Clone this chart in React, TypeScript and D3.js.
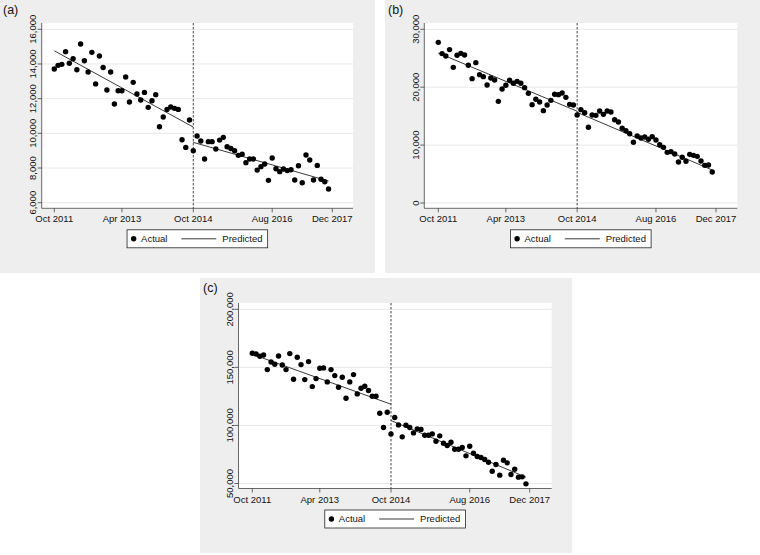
import * as d3 from "d3";

// month index 0 = Oct 2011
const tickIndex = [0, 18, 37, 58, 74];
const tickLabels = ["Oct 2011", "Apr 2013", "Oct 2014", "Aug 2016", "Dec 2017"];
const interventionIndex = 37;

const actualA = [
  13710, 13920, 13980, 14710, 14040, 14300, 13670, 15150, 14190, 13540,
  14670, 12850, 14460, 13800, 12500, 13540, 11690, 12460, 12460, 13250,
  11810, 12940, 12270, 11920, 12360, 11500, 11880, 12230, 10380, 10940,
  11380, 11520, 11440, 11380, 9630, 9190, 10770, 9000, 9850, 9560,
  8520, 9520, 9520, 9100, 9610, 9770, 9230, 9130, 9000, 8730,
  8790, 8310, 8520, 8520, 7880, 8080, 8230, 7290, 8580, 7960,
  7790, 7940, 7850, 7900, 7310, 8130, 7150, 8750, 8460, 7310,
  8150, 7350, 7210, 6790,
];
const fitA = [
  { from: 0, to: 37, start: 14760, end: 10360 },
  { from: 37, to: 73, start: 9480, end: 7250 },
];
const yTicksA = [6000, 8000, 10000, 12000, 14000, 16000];

const actualB = [
  27750, 25800, 25390, 26490, 23430, 25510, 25850, 25560, 23780, 21480,
  24240, 22170, 21820, 20380, 21590, 21250, 17560, 19690, 20330, 21190,
  20670, 21010, 20670, 19920, 18940, 16990, 17910, 17450, 15950, 16930,
  17730, 18770, 18710, 19000, 18250, 17040, 16930, 15200, 16120, 15600,
  13070, 15200, 15140, 15890, 15310, 15890, 15720, 14390, 13990, 12900,
  12490, 11970, 10480, 11570, 11230, 11400, 11000, 11460, 10880, 10070,
  9610, 8750, 8870, 8460, 7080, 7890, 7200, 8400, 8230, 8060,
  7250, 6500, 6560, 5350,
];
const fitB = [
  { from: 0, to: 37, start: 25900, end: 15850 },
  { from: 37, to: 73, start: 15650, end: 5700 },
];
const yTicksB = [0, 10000, 20000, 30000];

const actualC = [
  162140, 161570, 159560, 160700, 148090, 154680, 152670, 159840, 152100, 148090,
  161850, 139770, 158700, 152390, 139480, 154970, 133460, 140340, 149230, 149520,
  137470, 148090, 142920, 132890, 141490, 123420, 137470, 143780, 127150, 132030,
  133750, 130020, 125140, 125140, 110510, 98180, 111380, 92730, 106790, 100480,
  90150, 100190, 98180, 93590, 97040, 96460, 91590, 91590, 92730, 86420,
  91010, 84700, 82700, 85560, 79540, 79540, 80970, 73800, 82120, 76100,
  73230, 72370, 70650, 68360, 60610, 66350, 57170, 70080, 67780, 57740,
  62330, 55450, 55740, 49710,
];
const fitC = [
  { from: 0, to: 37, start: 161280, end: 118260 },
  { from: 37, to: 73, start: 104200, end: 55450 },
];
const yTicksC = [50000, 100000, 150000, 200000];

const FONT = "'Liberation Sans', Arial, sans-serif";

const panels = [
  {
    label: "(a)", actual: actualA, fit: fitA, yTicks: yTicksA,
    bg: { x: 0, y: 0, w: 375, h: 273 },
    plot: { left: 41.7, right: 353, top: 23, bottom: 208.3 },
    xRange: [54.3, 332.3], yRange: [202.7, 29.3],
  },
  {
    label: "(b)", actual: actualB, fit: fitB, yTicks: yTicksB,
    bg: { x: 385, y: 0, w: 375, h: 273 },
    plot: { left: 424.3, right: 737.3, top: 23, bottom: 208.3 },
    xRange: [438.3, 716], yRange: [203, 29.3],
  },
  {
    label: "(c)", actual: actualC, fit: fitC, yTicks: yTicksC,
    bg: { x: 200, y: 278, w: 372, h: 275 },
    plot: { left: 238.5, right: 551.7, top: 303, bottom: 488.5 },
    xRange: [252.3, 529.7], yRange: [483.5, 309.3],
  },
];

type Panel = (typeof panels)[number];

function ItsPanel({ p }: { p: Panel }) {
  const x = d3.scaleLinear().domain([0, 74]).range(p.xRange);
  const yTicks = p.yTicks;
  const y = d3
    .scaleLinear()
    .domain([yTicks[0], yTicks[yTicks.length - 1]])
    .range(p.yRange);
  const fmt = d3.format(",");
  const line = d3
    .line<[number, number]>()
    .x((d) => x(d[0]))
    .y((d) => y(d[1]));
  const { left, right, top, bottom } = p.plot;
  const legendW = 140.6;
  const legendX = (left + right) / 2 - legendW / 2;
  const legendY = bottom + 21.5;

  return (
    <g>
      <rect x={p.bg.x} y={p.bg.y} width={p.bg.w} height={p.bg.h} fill="#eeeeee" />
      <text x={p.bg.x + 3} y={p.bg.y + 14} fontSize={12.5} fontFamily={FONT} fill="#111">
        {p.label}
      </text>
      <rect x={left} y={top} width={right - left} height={bottom - top} fill="#ffffff" />
      {yTicks.map((t) => (
        <line key={"g" + t} x1={left} x2={right} y1={y(t)} y2={y(t)} stroke="#e8e8e8" strokeWidth={1} />
      ))}
      <line
        x1={x(interventionIndex)}
        x2={x(interventionIndex)}
        y1={top}
        y2={bottom}
        stroke="#111"
        strokeWidth={0.8}
        strokeDasharray="2.4,1.6"
      />
      {p.fit.map((s, i) => (
        <path
          key={"f" + i}
          d={line([[s.from, s.start], [s.to, s.end]]) ?? ""}
          fill="none"
          stroke="#222"
          strokeWidth={0.9}
        />
      ))}
      {p.actual.map((v, i) => (
        <circle key={"c" + i} cx={x(i)} cy={y(v)} r={2.7} fill="#000" />
      ))}
      {/* axes */}
      <line x1={left} x2={left} y1={top} y2={bottom} stroke="#444" strokeWidth={0.8} />
      <line x1={left} x2={right} y1={bottom} y2={bottom} stroke="#444" strokeWidth={0.8} />
      {yTicks.map((t) => (
        <g key={"y" + t}>
          <line x1={left - 4} x2={left} y1={y(t)} y2={y(t)} stroke="#444" strokeWidth={0.8} />
          <text
            transform={`translate(${left - 5.5},${y(t)}) rotate(-90)`}
            textAnchor="middle"
            fontSize={9.5}
            fontFamily={FONT}
            fill="#111"
          >
            {fmt(t)}
          </text>
        </g>
      ))}
      {tickIndex.map((t, i) => (
        <g key={"x" + t}>
          <line x1={x(t)} x2={x(t)} y1={bottom} y2={bottom + 4} stroke="#444" strokeWidth={0.8} />
          <text
            x={x(t)}
            y={bottom + 14}
            textAnchor="middle"
            fontSize={9.5}
            fontFamily={FONT}
            fill="#111"
          >
            {tickLabels[i]}
          </text>
        </g>
      ))}
      {/* legend */}
      <rect x={legendX} y={legendY} width={legendW} height={18} fill="#fff" stroke="#222" strokeWidth={0.8} />
      <circle cx={legendX + 6.6} cy={legendY + 9} r={2.7} fill="#000" />
      <text x={legendX + 14} y={legendY + 12.4} fontSize={9.5} fontFamily={FONT} fill="#111">
        Actual
      </text>
      <line
        x1={legendX + 54.3}
        x2={legendX + 89.3}
        y1={legendY + 9}
        y2={legendY + 9}
        stroke="#222"
        strokeWidth={0.9}
      />
      <text x={legendX + 95.3} y={legendY + 12.4} fontSize={9.5} fontFamily={FONT} fill="#111">
        Predicted
      </text>
    </g>
  );
}

export default function App() {
  return (
    <svg
      width={760}
      height={555}
      viewBox="0 0 760 555"
      style={{ position: "absolute", left: 0, top: 0, display: "block", background: "#fff" }}
    >
      {panels.map((p) => (
        <ItsPanel key={p.label} p={p} />
      ))}
    </svg>
  );
}
